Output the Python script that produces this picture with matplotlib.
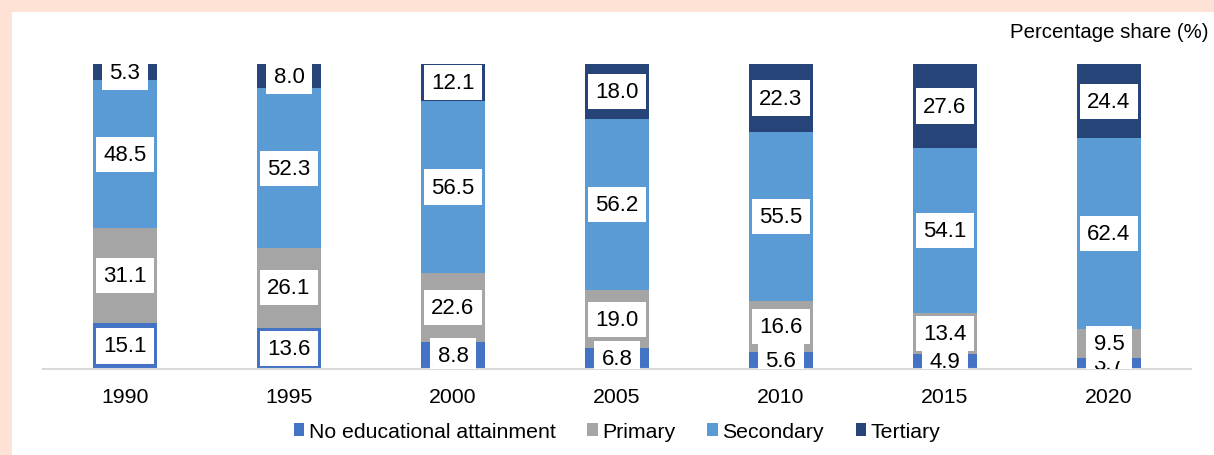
import numpy as np
import matplotlib.pyplot as plt
from matplotlib.patches import Rectangle
from matplotlib.path import Path

plt.rcParams['font.family'] = ['Liberation Sans', 'DejaVu Sans']

years = ['1990', '1995', '2000', '2005', '2010', '2015', '2020']
no_edu = [15.1, 13.6, 8.8, 6.8, 5.6, 4.9, 3.7]
primary = [31.1, 26.1, 22.6, 19.0, 16.6, 13.4, 9.5]
secondary = [48.5, 52.3, 56.5, 56.2, 55.5, 54.1, 62.4]
tertiary = [5.3, 8.0, 12.1, 18.0, 22.3, 27.6, 24.4]

series = [
    ('No educational attainment', no_edu, '#4472C4'),
    ('Primary', primary, '#A5A5A5'),
    ('Secondary', secondary, '#5B9BD5'),
    ('Tertiary', tertiary, '#264478'),
]


# white label box, wider padding left/right than top/bottom
def label_box(x0, y0, width, height, mutation_size):
    px = 0.33 * mutation_size
    py = 0.32 * mutation_size
    x1, y1 = x0 + width + px, y0 + height + py
    x0, y0 = x0 - px, y0 - py
    return Path([(x0, y0), (x1, y0), (x1, y1), (x0, y1), (x0, y0)], closed=True)


fig = plt.figure(figsize=(12.14, 4.56), dpi=100)
fig.patch.set_facecolor('#FDE2D5')
# white panel inside the peach frame
fig.patches.append(Rectangle((12 / 1214, 0), 1, 1 - 13 / 456, transform=fig.transFigure,
                             facecolor='white', edgecolor='none', zorder=-5))

ax = fig.add_axes([43 / 1214, 86 / 456, 1148 / 1214, 305 / 456])
ax.set_facecolor('none')

x = np.arange(len(years))
bottom = np.zeros(len(years))
for name, vals, col in series:
    vals = np.array(vals)
    ax.bar(x, vals, 0.396, bottom=bottom, color=col, label=name, zorder=2)
    for xi, b, v in zip(x, bottom, vals):
        t = ax.text(xi, b + v / 2, '%.1f' % v, ha='center', va='center', fontsize=16,
                    color='black', zorder=3,
                    bbox=dict(boxstyle=label_box, facecolor='white', edgecolor='none'))
        t.set_clip_on(True)
    bottom += vals

ax.set_xlim(-0.5, len(years) - 0.5)
ax.set_ylim(0, 100)
ax.set_xticks(x)
ax.set_xticklabels(years, fontsize=15.3)
ax.tick_params(axis='x', length=0, pad=13)
ax.set_yticks([])
for s in ['top', 'right', 'left']:
    ax.spines[s].set_visible(False)
ax.spines['bottom'].set_color('#D9D9D9')
ax.spines['bottom'].set_linewidth(1.5)

fig.text(1208 / 1214, 1 - 32 / 456, 'Percentage share (%)', ha='right', va='center', fontsize=14.7)

leg = ax.legend(loc='center', bbox_to_anchor=(0.5, -0.205), ncol=4, frameon=False, fontsize=15.3,
                handlelength=0.5, handleheight=0.5, handletextpad=0.2, columnspacing=1.5)

plt.savefig('out.png', dpi=100)
